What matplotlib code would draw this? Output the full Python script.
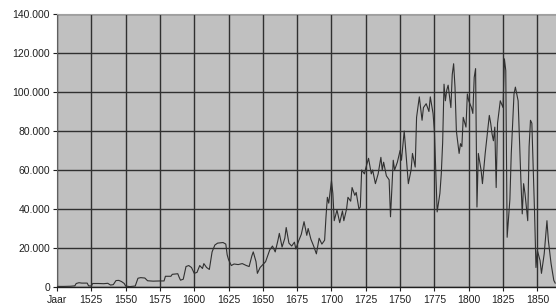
import matplotlib
matplotlib.use("Agg")
import matplotlib.pyplot as plt
from matplotlib.ticker import FuncFormatter

years = [1500, 1505, 1510, 1513, 1514, 1516, 1518, 1522, 1523, 1525, 1526, 1530, 1534, 1537, 1539,
         1541, 1543, 1545, 1547, 1549, 1550, 1553, 1557, 1559, 1561, 1564, 1566, 1570, 1575,
         1578, 1579, 1583, 1584, 1588, 1589, 1590, 1592, 1594, 1596, 1598, 1600, 1602, 1604,
         1606, 1607, 1609, 1611, 1613, 1615, 1617, 1621, 1623, 1624, 1625, 1627, 1629, 1632,
         1635, 1638, 1640, 1642, 1643, 1645, 1646, 1648, 1650, 1652, 1654, 1655, 1657, 1659,
         1661, 1662, 1664, 1666, 1667, 1669, 1671, 1673, 1674, 1676, 1678, 1680, 1682, 1683,
         1685, 1687, 1689, 1691, 1693, 1695, 1696, 1697, 1698, 1700, 1701, 1702, 1704, 1706,
         1708, 1709, 1711, 1712, 1714, 1715, 1717, 1718, 1720, 1721, 1722, 1724, 1725, 1727,
         1729, 1730, 1732, 1734, 1736, 1737, 1738, 1740, 1742, 1743, 1745, 1746, 1748, 1750,
         1751, 1753, 1755, 1756, 1758, 1759, 1761, 1762, 1764, 1766, 1767, 1769, 1771, 1772,
         1774, 1775, 1777, 1779, 1780, 1781, 1782, 1783, 1784, 1785, 1787, 1788, 1789, 1790,
         1791, 1793, 1794, 1795, 1796, 1798, 1799, 1800, 1802, 1803, 1804, 1805, 1806, 1807,
         1809, 1810, 1812, 1815, 1816, 1817, 1818, 1819, 1820, 1821, 1823, 1825, 1826, 1827,
         1828, 1830, 1831, 1833, 1834, 1836, 1838, 1839, 1840, 1841, 1843, 1844, 1845, 1846,
         1847, 1848, 1849, 1850, 1852, 1853, 1855, 1857, 1858, 1860, 1862, 1863]

values = [300, 300, 400, 600, 1800, 2200, 2000, 2000, 600, 500, 1800, 1800, 1700, 1900, 1000,
          1200, 3300, 3400, 2800, 1800, 500, 200, 500, 4500, 4800, 4600, 3200, 3000, 3100,
          3100, 5500, 5500, 6500, 6800, 5000, 3500, 4000, 10500, 11000, 10000, 7000, 7500, 11000,
          9500, 12000, 10000, 9000, 18000, 21500, 22500, 22800, 22000, 16500, 14000, 11000, 11800, 11500,
          12000, 11000, 10500, 16000, 18000, 13000, 7000, 10000, 11500, 13000, 17000, 19000, 21000, 18000,
          24000, 27500, 20500, 25000, 30500, 22500, 21000, 23000, 19500, 23500, 27000, 33500, 26500, 30000,
          24500, 21000, 17000, 25000, 22000, 24000, 36000, 46000, 43000, 54500, 48000, 34000, 39500, 33000,
          39000, 34000, 40000, 46000, 44000, 51000, 47000, 48500, 40000, 41000, 60000, 58000, 61000, 66000,
          58000, 60000, 53000, 58000, 66500, 60000, 64000, 57000, 55000, 36000, 65000, 60000, 64000, 70000,
          65000, 80000, 61500, 53000, 60000, 68500, 61500, 87000, 97500, 85500, 92000, 94000, 90000, 97500,
          89000, 80000, 38500, 48000, 58000, 74000, 104000, 95500, 101000, 103500, 92000, 109000, 114500, 102500,
          80000, 68500, 73500, 72000, 87000, 82000, 99000, 95500, 92000, 89000, 107500, 112000, 41000, 68500,
          60000, 53000, 68500, 88000, 84000, 78500, 75000, 82000, 51000, 84000, 95500, 92000, 117000, 111000,
          25500, 45000, 68500, 99000, 102500, 95500, 55000, 37500, 53000, 48000, 34000, 72000, 85500, 84000,
          60000, 37500, 10000, 18800, 13500, 7000, 17000, 34000, 24000, 12000, 3400, 2000]

xticks = [1500, 1525, 1550, 1575, 1600, 1625, 1650, 1675, 1700, 1725, 1750, 1775, 1800, 1825, 1850]
xtick_labels = ["Jaar", "1525", "1550", "1575", "1600", "1625", "1650", "1675", "1700",
                "1725", "1750", "1775", "1800", "1825", "1850"]
yticks = [0, 20000, 40000, 60000, 80000, 100000, 120000, 140000]

plt.rcParams['font.family'] = ['Liberation Sans', 'DejaVu Sans']

fig = plt.figure(figsize=(5.56, 3.07), dpi=100)
ax = fig.add_axes([57 / 556, 1 - 287 / 307, 1 - 57 / 556 + 0.001, (287 - 14) / 307])
ax.set_facecolor('#c0c0c0')

ax.plot(years, values, color='#303030', linewidth=0.8, zorder=3)

ax.set_xlim(1500, 1864)
ax.set_ylim(0, 140000)
ax.set_xticks(xticks)
ax.set_xticklabels(xtick_labels)
ax.set_yticks(yticks)
ax.yaxis.set_major_formatter(FuncFormatter(lambda v, p: f"{int(v):,}".replace(",", ".")))

ax.grid(True, color='#303030', linewidth=1.0, zorder=1)
ax.set_axisbelow(True)
ax.tick_params(axis='both', labelsize=7.5, colors='#202020', length=3, width=0.8, pad=2)
ax.tick_params(axis='x', pad=3)

for s in ['top', 'right']:
    ax.spines[s].set_color('#a0a0a0')
    ax.spines[s].set_linewidth(0.8)
ax.spines['left'].set_color('#606060')
ax.spines['left'].set_linewidth(0.8)
ax.spines['bottom'].set_color('#202020')
ax.spines['bottom'].set_linewidth(1.0)

fig.savefig("out.png", dpi=100)
